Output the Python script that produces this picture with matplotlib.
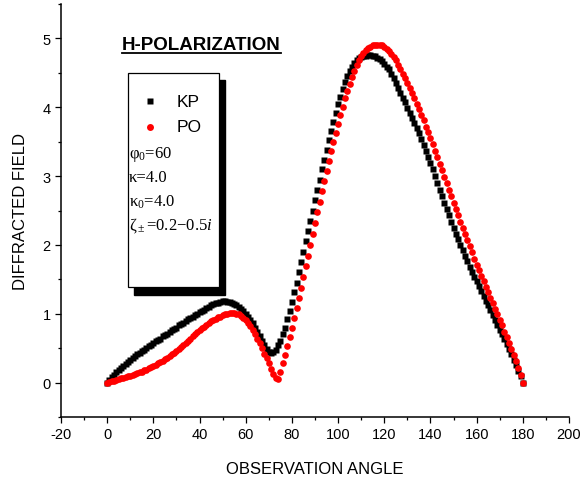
import numpy as np
import matplotlib
matplotlib.use("Agg")
import matplotlib.pyplot as plt
from matplotlib.patches import Rectangle
from matplotlib.lines import Line2D

plt.rcParams['font.family'] = ['Liberation Sans', 'DejaVu Sans']
plt.rcParams['mathtext.fontset'] = 'custom'
plt.rcParams['mathtext.rm'] = 'Liberation Serif'
plt.rcParams['mathtext.it'] = 'Liberation Serif:italic'
plt.rcParams['axes.unicode_minus'] = False

# observation angle, one point per degree
angle = list(range(0, 181))

# KP curve (black squares)
kp = [
    0.00, 0.04, 0.08, 0.11, 0.15, 0.18, 0.21, 0.24, 0.27, 0.30,
    0.33, 0.36, 0.38, 0.41, 0.43, 0.46, 0.48, 0.50, 0.53, 0.55,
    0.57, 0.60, 0.62, 0.64, 0.67, 0.69, 0.71, 0.74, 0.76, 0.78,
    0.80, 0.83, 0.85, 0.87, 0.90, 0.92, 0.94, 0.96, 0.98, 1.00,
    1.02, 1.04, 1.06, 1.08, 1.10, 1.12, 1.14, 1.15, 1.16, 1.17,
    1.18, 1.18, 1.17, 1.17, 1.16, 1.14, 1.12, 1.10, 1.07, 1.04,
    1.00, 0.96, 0.91, 0.86, 0.80, 0.74, 0.68, 0.61, 0.55, 0.49,
    0.45, 0.43, 0.44, 0.48, 0.54, 0.61, 0.70, 0.80, 0.92, 1.04,
    1.17, 1.31, 1.45, 1.60, 1.75, 1.90, 2.05, 2.20, 2.35, 2.50,
    2.65, 2.80, 2.95, 3.10, 3.24, 3.38, 3.52, 3.66, 3.79, 3.92,
    4.04, 4.15, 4.26, 4.36, 4.45, 4.53, 4.59, 4.64, 4.68, 4.71,
    4.73, 4.74, 4.75, 4.76, 4.76, 4.75, 4.74, 4.72, 4.70, 4.67,
    4.63, 4.59, 4.55, 4.49, 4.42, 4.35, 4.28, 4.21, 4.14, 4.07,
    3.99, 3.92, 3.85, 3.77, 3.70, 3.62, 3.54, 3.45, 3.37, 3.28,
    3.19, 3.10, 3.00, 2.90, 2.80, 2.71, 2.61, 2.52, 2.43, 2.34,
    2.25, 2.16, 2.08, 2.00, 1.92, 1.84, 1.76, 1.68, 1.61, 1.54,
    1.47, 1.40, 1.33, 1.26, 1.19, 1.12, 1.05, 0.98, 0.91, 0.84,
    0.77, 0.70, 0.63, 0.56, 0.49, 0.41, 0.33, 0.25, 0.17, 0.09,
    0.00,
]

# PO curve (red dots)
po = [
    0.00, 0.01, 0.02, 0.03, 0.04, 0.05, 0.06, 0.07, 0.08, 0.09,
    0.10, 0.11, 0.12, 0.14, 0.15, 0.16, 0.18, 0.19, 0.21, 0.22,
    0.24, 0.26, 0.28, 0.30, 0.32, 0.34, 0.36, 0.38, 0.41, 0.43,
    0.46, 0.49, 0.52, 0.55, 0.58, 0.61, 0.64, 0.67, 0.70, 0.73,
    0.76, 0.79, 0.81, 0.84, 0.86, 0.89, 0.91, 0.93, 0.95, 0.96,
    0.98, 0.99, 1.00, 1.01, 1.01, 1.01, 1.00, 0.99, 0.97, 0.94,
    0.91, 0.87, 0.82, 0.77, 0.71, 0.64, 0.57, 0.50, 0.42, 0.35,
    0.28, 0.20, 0.13, 0.06, 0.05, 0.15, 0.28, 0.40, 0.53, 0.66,
    0.79, 0.94, 1.09, 1.23, 1.38, 1.53, 1.69, 1.84, 2.00, 2.16,
    2.32, 2.48, 2.63, 2.78, 2.93, 3.08, 3.22, 3.36, 3.50, 3.63,
    3.76, 3.89, 4.01, 4.13, 4.24, 4.34, 4.44, 4.53, 4.61, 4.68,
    4.74, 4.79, 4.83, 4.86, 4.88, 4.90, 4.91, 4.91, 4.91, 4.90,
    4.88, 4.85, 4.82, 4.78, 4.73, 4.68, 4.62, 4.56, 4.49, 4.42,
    4.35, 4.28, 4.21, 4.13, 4.05, 3.97, 3.89, 3.81, 3.72, 3.64,
    3.55, 3.46, 3.37, 3.27, 3.18, 3.09, 2.99, 2.90, 2.80, 2.71,
    2.61, 2.52, 2.43, 2.34, 2.25, 2.16, 2.07, 1.98, 1.89, 1.80,
    1.71, 1.63, 1.55, 1.47, 1.39, 1.31, 1.23, 1.15, 1.07, 0.99,
    0.91, 0.83, 0.74, 0.66, 0.57, 0.49, 0.40, 0.31, 0.21, 0.11,
    0.00,
]

x_ticks = [-20, 0, 20, 40, 60, 80, 100, 120, 140, 160, 180, 200]
y_ticks = [0, 1, 2, 3, 4, 5]
params = ['\u03c6$_0$=60', '\u03ba=4.0', '\u03ba$_0$=4.0', '\u03b6$_\\pm$=0.2\u22120.5$\\it{i}$']
param_y = [0.630, 0.571, 0.513, 0.455]

fig = plt.figure(figsize=(5.8, 4.81), dpi=100)
ax = fig.add_axes([61/580, 63/481, 508/580, 413/481])

ax.plot(angle, kp, ls='none', marker='s', ms=4.4, mec='none', color='black', zorder=3)
ax.plot(angle, po, ls='none', marker='o', ms=4.8, mec='none', color='#ff0000', zorder=4)

ax.set_xlim(-20, 200)
ax.set_ylim(-0.5, 5.5)
ax.set_xticks(x_ticks)
ax.set_yticks(y_ticks)
ax.set_xticks(np.arange(-10, 200, 20), minor=True)
ax.set_yticks(np.arange(-0.5, 5.6, 1.0), minor=True)
ax.tick_params(which='major', direction='out', length=4, width=0.9, labelsize=10.5)
ax.tick_params(which='minor', direction='out', length=2.5, width=0.9)
for s in ['top', 'right']:
    ax.spines[s].set_visible(False)
for s in ['left', 'bottom']:
    ax.spines[s].set_linewidth(1.1)

ax.set_xlabel('OBSERVATION ANGLE', fontsize=12, labelpad=14)
ax.set_ylabel('DIFFRACTED FIELD', fontsize=12, labelpad=10)

# title with underline
ax.text(0.12, 0.892, 'H-POLARIZATION', transform=ax.transAxes, fontsize=13.5,
        fontweight='bold', ha='left', va='baseline')
ax.add_line(Line2D([0.12, 0.434], [0.882, 0.882], transform=ax.transAxes,
                   color='black', lw=1.3))

# legend box with shadow
bx0, by0, bw, bh = 0.132, 0.314, 0.179, 0.519
ax.add_patch(Rectangle((bx0 + 0.012, by0 - 0.018), bw, bh, transform=ax.transAxes,
                       facecolor='black', edgecolor='black', zorder=5))
ax.add_patch(Rectangle((bx0, by0), bw, bh, transform=ax.transAxes,
                       facecolor='white', edgecolor='black', lw=0.9, zorder=6))
ax.plot([0.176], [0.764], transform=ax.transAxes, marker='s', ms=4.4,
        color='black', mec='none', zorder=7, clip_on=False)
ax.plot([0.176], [0.703], transform=ax.transAxes, marker='o', ms=5,
        color='#ff0000', mec='none', zorder=7, clip_on=False)
ax.text(0.228, 0.764, 'KP', transform=ax.transAxes, fontsize=12.5, va='center', zorder=7)
ax.text(0.228, 0.703, 'PO', transform=ax.transAxes, fontsize=12.5, va='center', zorder=7)
for s, yy in zip(params, param_y):
    ax.text(0.134, yy, s, transform=ax.transAxes, fontsize=12,
            family='Liberation Serif', va='baseline', zorder=7)

fig.savefig('out.png', dpi=100)
